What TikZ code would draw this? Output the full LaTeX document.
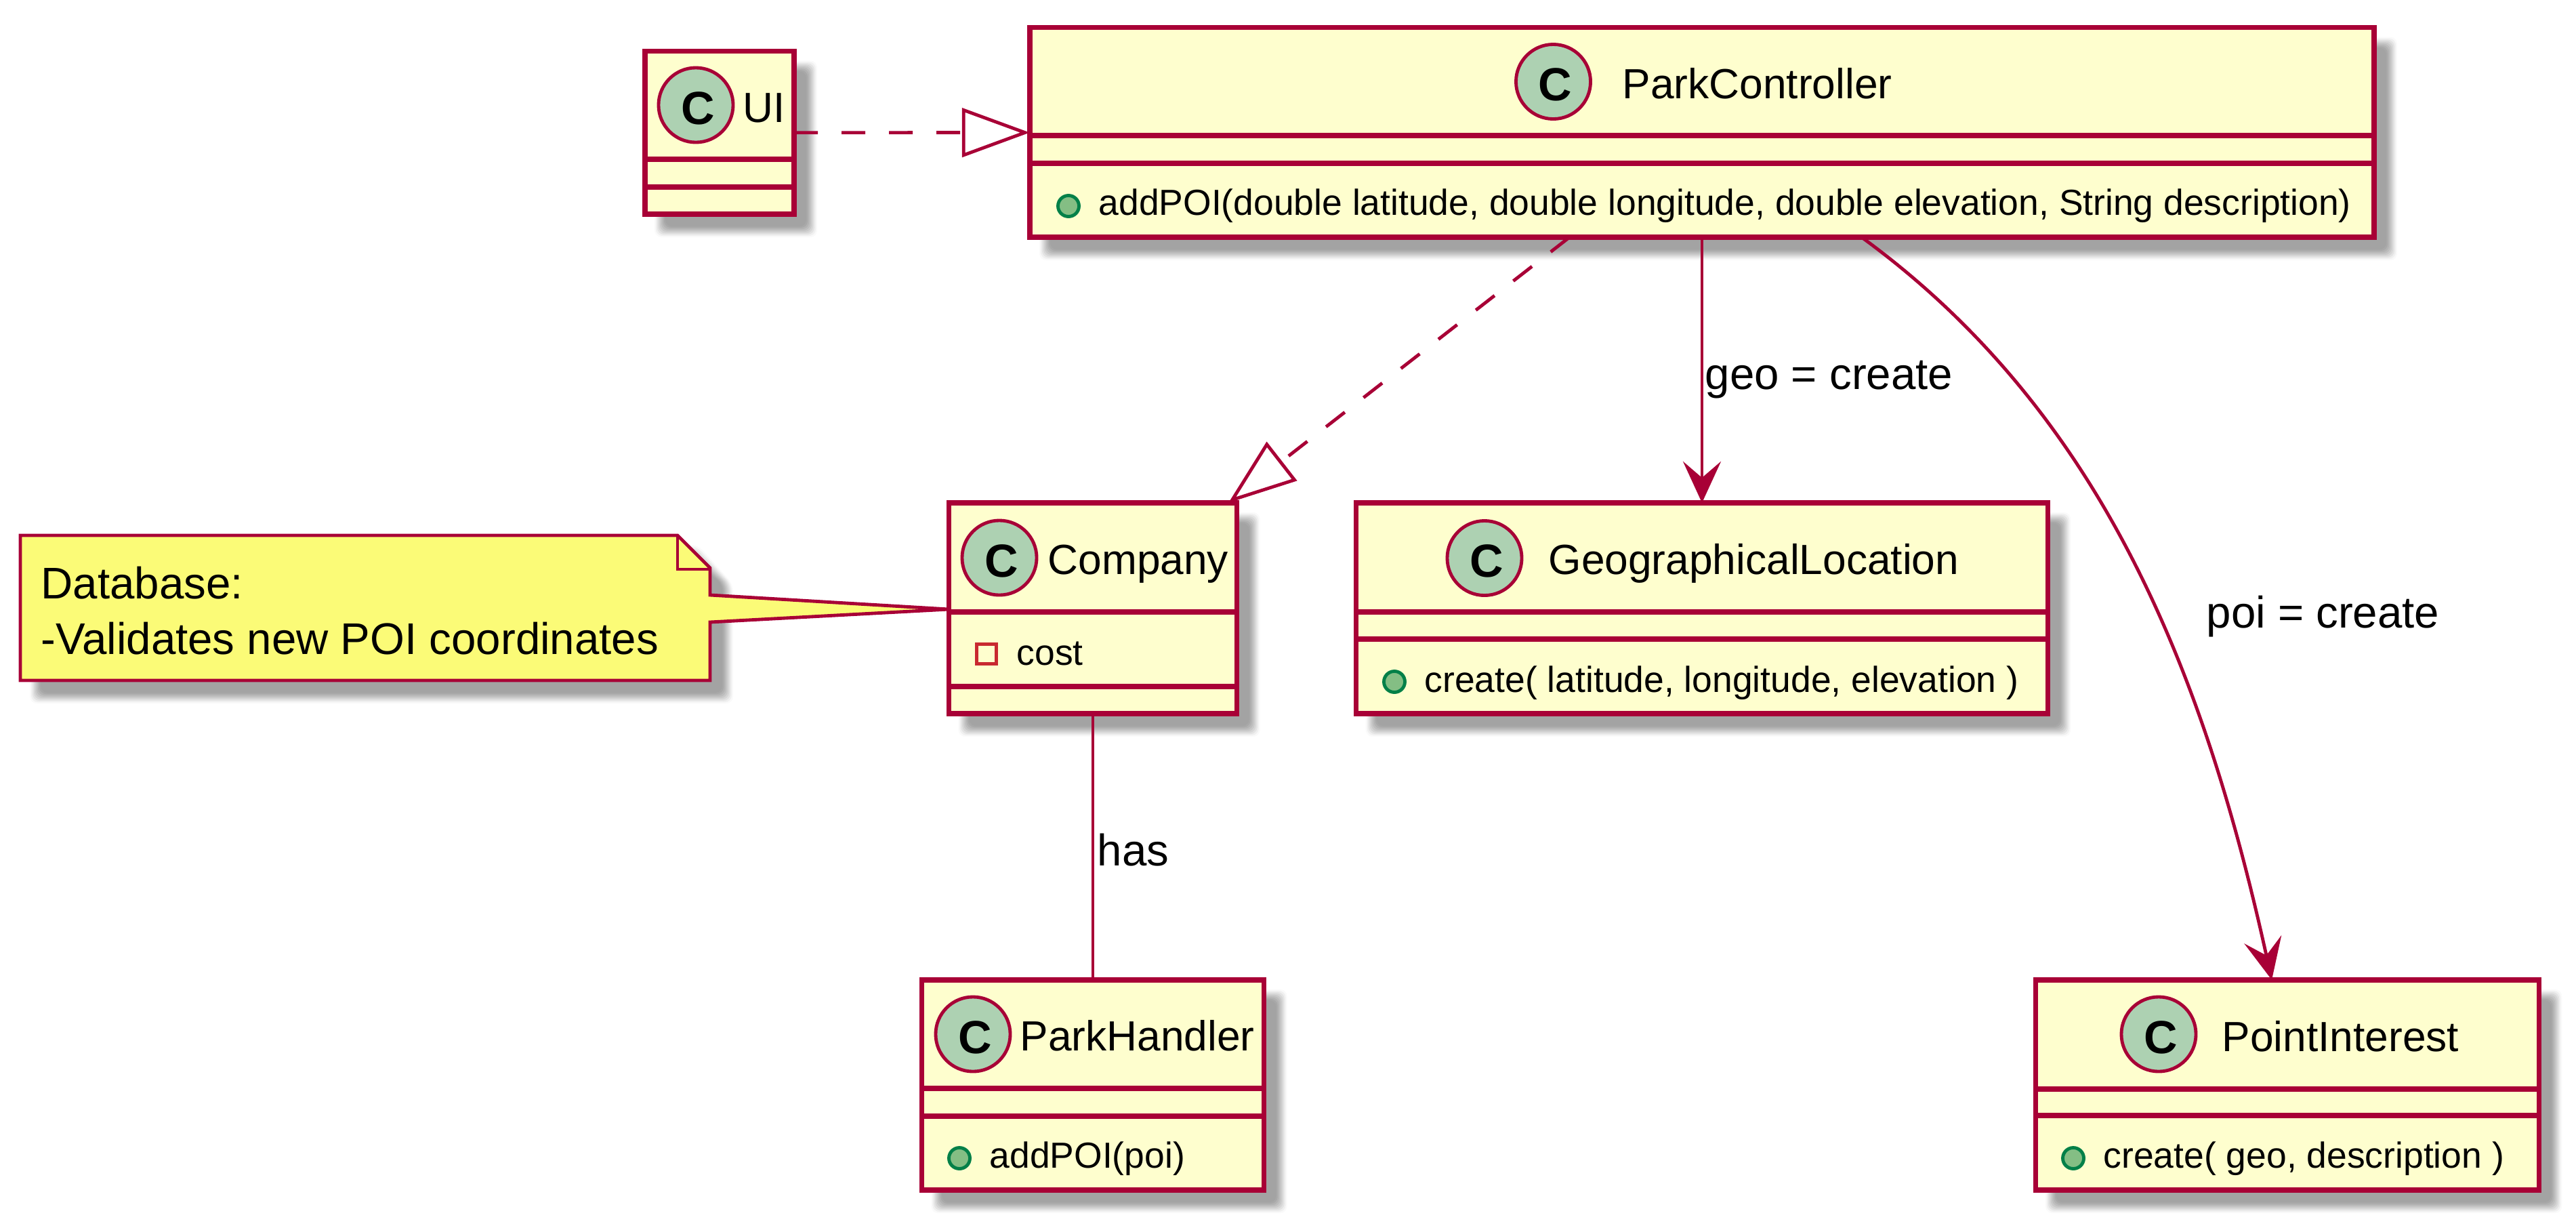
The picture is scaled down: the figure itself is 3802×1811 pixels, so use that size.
\documentclass[tikz,border=0pt]{standalone}
\usepackage{fontspec}
\setmainfont{Liberation Sans}
\usetikzlibrary{arrows.meta,backgrounds,calc}

\definecolor{umlred}{HTML}{A80036}
\definecolor{umlfill}{HTML}{FEFECE}
\definecolor{umlnote}{HTML}{FBFB77}
\definecolor{umlcircle}{HTML}{ADD1B2}
\definecolor{pubfill}{HTML}{84BE84}
\definecolor{publine}{HTML}{038048}
\definecolor{privline}{HTML}{C82930}

\tikzstyle{classbox} = [rectangle,draw=umlred,fill=umlfill,line width=.073cm,outer sep=0pt,inner sep=0pt]
\tikzstyle{sepline} = [draw=umlred,line width=.073cm]
\tikzstyle{classmark} = [circle,draw=umlred,fill=umlcircle,line width=.0485cm,minimum size=1.1cm,inner sep=0pt,text height=.56cm,text depth=0cm,execute at begin node={\kern.06cm},font=\bfseries\fontsize{19.5}{22}\selectfont]
\tikzstyle{classname} = [anchor=base west,inner sep=0pt,font=\fontsize{17.7}{20}\selectfont]
\tikzstyle{member} = [anchor=base west,inner sep=0pt,font=\fontsize{15.2}{18}\selectfont]
\tikzstyle{linklabel} = [anchor=base west,inner sep=0pt,font=\fontsize{18.6}{22}\selectfont]
\tikzstyle{pubdot} = [circle,draw=publine,fill=pubfill,line width=.0485cm,minimum size=.31cm,inner sep=0pt]
\tikzstyle{privmark} = [rectangle,draw=privline,line width=.0485cm,minimum size=.29cm,inner sep=0pt]
\tikzstyle{notebox} = [draw=umlred,fill=umlnote,line width=.0485cm]
\tikzstyle{notepart} = [anchor=base west,inner sep=0pt,font=\fontsize{18.6}{22}\selectfont]
\tikzstyle{dashlink} = [draw=umlred,line width=.0485cm,dash pattern=on .35cm off .35cm,-{Triangle[open,length=1cm,width=.72cm,fill=white]}]
\tikzstyle{createlink} = [draw=umlred,line width=.0485cm,-{Stealth[length=.61cm,width=.56cm,inset=.24cm]}]
\tikzstyle{plainlink} = [draw=umlred,line width=.0485cm]

\begin{document}
\begin{tikzpicture}[x=.01cm,y=-.01cm]
	\useasboundingbox (0,0) rectangle (3802,1811);
	% boxes
	\node[classbox,minimum width=2.2cm,minimum height=2.405cm] (ui) at (1062,195.75) {};
	\node[classbox,minimum width=19.83cm,minimum height=3.093cm] (ctrl) at (2512,195.35) {};
	\node[classbox,minimum width=4.25cm,minimum height=3.11cm] (company) at (1613,897.5) {};
	\node[classbox,minimum width=10.2cm,minimum height=3.11cm] (geo) at (2512,897.5) {};
	\node[classbox,minimum width=5.05cm,minimum height=3.1cm] (park) at (1613,1601) {};
	\node[classbox,minimum width=7.42cm,minimum height=3.1cm] (point) at (3376,1601) {};
	\foreach \n/\a/\b in {ui/235/276,ctrl/200/241,company/903/1013,geo/903/943,park/1606/1647,point/1607/1646} {
		\draw[sepline] (\n.west |- 0,\a) -- (\n.east |- 0,\a);
		\draw[sepline] (\n.west |- 0,\b) -- (\n.east |- 0,\b);
	}
	% class marks and names
	\node[classmark] (uimark) at (1027,155) {C};
	\node[classmark] (ctrlmark) at (2292.5,120.5) {C};
	\node[classmark] (companymark) at (1475,823) {C};
	\node[classmark] (geomark) at (2191,823.5) {C};
	\node[classmark] (parkmark) at (1436,1526) {C};
	\node[classmark] (pointmark) at (3186,1526) {C};
	\node[classname] (uiname) at (1096,180) {UI};
	\node[classname] (ctrlname) at (2394,145) {ParkController};
	\node[classname] (companyname) at (1546,847) {Company};
	\node[classname] (geoname) at (2285,847) {GeographicalLocation};
	\node[classname] (parkname) at (1505,1550) {ParkHandler};
	\node[classname] (pointname) at (3279,1551) {PointInterest};
	% members
	\node[pubdot] (ctrldot) at (1577,304) {};
	\node[pubdot] (geodot) at (2058,1006) {};
	\node[pubdot] (parkdot) at (1416,1709) {};
	\node[pubdot] (pointdot) at (3060,1709) {};
	\node[privmark] (costmark) at (1456,965) {};
	\node[member] (ctrlpoi) at (1621,317) {addPOI(double latitude, double longitude, double elevation, String description)};
	\node[member] (geocreate) at (2102,1021) {create( latitude, longitude, elevation )};
	\node[member] (parkpoi) at (1460,1723) {addPOI(poi)};
	\node[member] (pointcreate) at (3104,1723) {create( geo, description )};
	\node[member] (cost) at (1500,981) {cost};
	% note
	\draw[notebox] (30,790) -- (1000,790) -- (1048,838) -- (1048,878) -- (company.west |- 0,899) -- (1048,918) -- (1048,1004) -- (30,1004) -- cycle;
	\draw[notebox,fill=none] (1000,790) -- (1000,840) -- (1048,840);
	\node[notepart] (notehead) at (60,883) {Database:};
	\node[notepart] (notetext) at (60,965) {-Validates new POI coordinates};
	% links
	\draw[dashlink] (ui) -- (ctrl);
	\draw[dashlink] ([xshift=-1.955cm]ctrl.south) -- ([xshift=2cm]company.north);
	\draw[createlink] (ctrl.south) -- (geo.north);
	\draw[createlink] ([xshift=2.355cm]ctrl.south) .. controls (3111,615) and (3256,1008) .. ([xshift=-.23cm]point.north);
	\draw[plainlink] (company.south) -- (park.north);
	\node[linklabel] (geolabel) at (2516,574) {geo = create};
	\node[linklabel] (poilabel) at (3256,926) {poi = create};
	\node[linklabel] (haslabel) at (1619,1277) {has};
	% shadows
	\begin{scope}[on background layer]
		\foreach \o/\c in {8/2,6/6,4/11,2/16,0/21,-2/26,-4/30,-6/34,-8/36} {
			\foreach \n in {ui,ctrl,company,geo,park,point} {
				\fill[black!\c,rounded corners=.1cm] ($(\n.north west)+(22-\o,22-\o)$) rectangle ($(\n.south east)+(26+\o,26+\o)$);
			}
			\fill[black!\c,rounded corners=.1cm] (52-\o,812-\o) -- (1022+\o,812-\o) -- (1074+\o,862) -- (1074+\o,1030+\o) -- (52-\o,1030+\o) -- cycle;
		}
	\end{scope}
\end{tikzpicture}
\end{document}
